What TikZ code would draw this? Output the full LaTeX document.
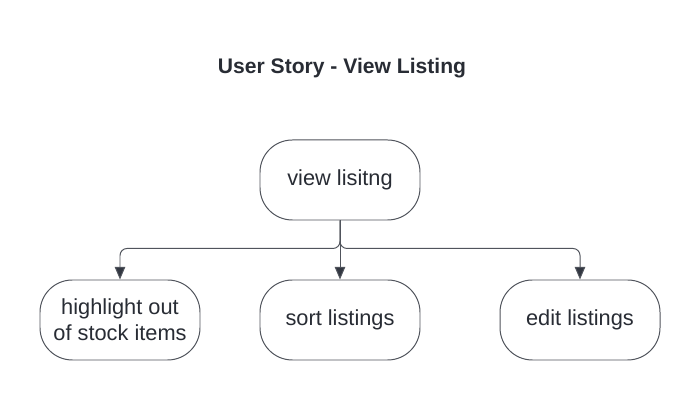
\documentclass[tikz,border=0pt]{standalone}
\usepackage{fontspec}
\setmainfont{Liberation Sans}
\usetikzlibrary{
    arrows.meta,
    positioning
}
\definecolor{bgWhite}{RGB}{255, 255, 255}
\definecolor{textDark}{RGB}{40, 44, 52}
\definecolor{lineGray}{RGB}{80, 84, 92}
\definecolor{arrowDark}{RGB}{50, 55, 65}
\def\slideW{17.5}
\def\slideH{10}
\tikzset{
    title/.style={
        font=\bfseries\fontsize{15}{18}\selectfont,
        text=textDark
    },
    story/.style={
        rectangle,
        rounded corners=23pt,
        minimum width=4cm,
        minimum height=2cm,
        align=center,
        draw=lineGray,
        line width=0.7pt,
        fill=bgWhite,
        text=textDark,
        font=\fontsize{15.5}{18.5}\selectfont
    },
    connector/.style={
        draw=lineGray,
        line width=0.7pt,
        rounded corners=5pt,
        -{Triangle[width=7.5pt, length=9pt, fill=arrowDark]}
    }
}
\begin{document}
\begin{tikzpicture}
    \useasboundingbox (0,0) rectangle (\slideW, \slideH);
    \fill[bgWhite] (0,0) rectangle (\slideW, \slideH);

    \node[title] (heading) at (8.55, 8.3) {User Story - View Listing};

    % Parent story
    \node[story] (view) at (8.5, 5.5) {view lisitng};

    % Child stories
    \node[story] (highlight) at (3.0, 2.0) {highlight out\\of stock items};
    \node[story] (sort) at (8.5, 2.0) {sort listings};
    \node[story] (edit) at (14.5, 2.0) {edit listings};

    % Paths
    \draw[connector] (view.south) -- ++(0, -0.7) -| (highlight.north);
    \draw[connector] (view.south) -- ++(0, -0.7) -| (edit.north);
    \draw[connector] (view) -- (sort);
\end{tikzpicture}
\end{document}
